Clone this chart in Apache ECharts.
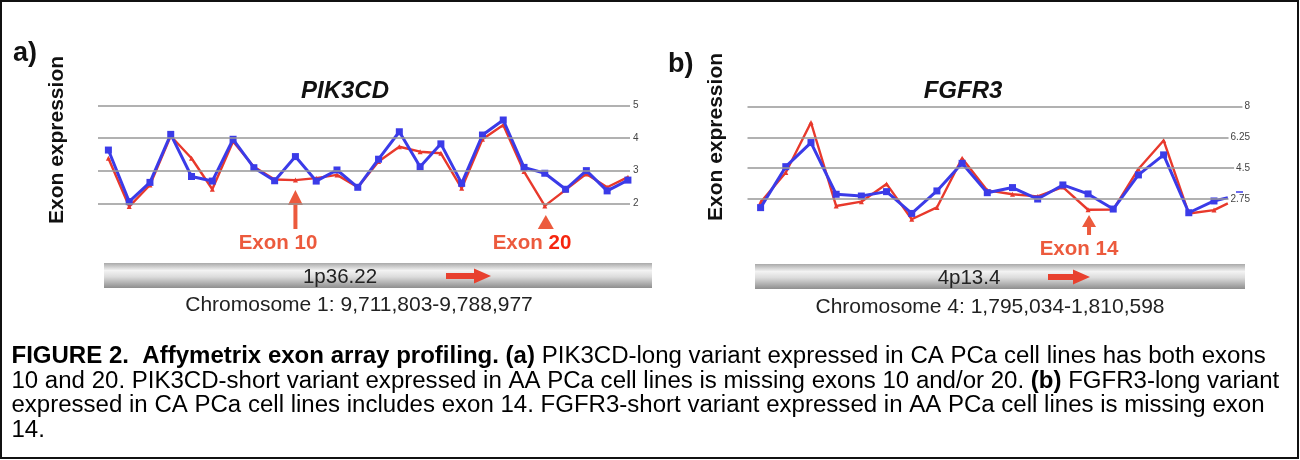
<!DOCTYPE html>
<html><head><meta charset="utf-8">
<script src="https://cdn.jsdelivr.net/npm/echarts@6/dist/echarts.min.js"></script>
<style>html,body{margin:0;padding:0;background:#fff}#c{width:1300px;height:460px}</style>
</head><body><div id="c"></div>
<script>
// ---- data (a) PIK3CD ----
const probesA = [1,2,3,4,5,6,7,8,9,10,11,12,13,14,15,16,17,18,19,20,21,22,23,24,25,26];
const blueA = [3.63,2.05,2.64,4.11,2.82,2.68,3.96,3.09,2.69,3.43,2.68,3.02,2.49,3.35,4.19,3.12,3.82,2.61,4.09,4.55,3.10,2.92,2.43,3.00,2.38,2.71];
const redA  = [3.38,1.90,2.56,4.06,3.38,2.43,3.89,3.12,2.73,2.71,2.77,2.87,2.49,3.28,3.73,3.58,3.53,2.46,3.96,4.40,2.97,1.92,2.41,2.90,2.49,2.80];
const ticksA = [5,4,3,2];
const tickLabelsA = ['5','4','3','2'];
// ---- data (b) FGFR3 ----
const probesB = [0,1,2,3,4,5,6,7,8,9,10,11,12,13,14,15,16,17,18,18.55];
const blueB = [2.26,4.59,5.96,3.02,2.92,3.17,1.93,3.21,4.78,3.11,3.40,2.75,3.55,3.04,2.18,4.12,5.26,1.97,2.64,2.83];
const redB  = [2.56,4.26,7.10,2.35,2.60,3.61,1.60,2.27,5.07,3.24,3.02,2.90,3.43,2.14,2.15,4.46,6.08,1.93,2.12,2.50];
const ticksB = [8,6.25,4.5,2.75];
const tickLabelsB = ['8','6.25','4.5','2.75'];
const exonMarksA = [{idx:9,label:'Exon 10'},{idx:21,label:'Exon 20'}];
const exonMarksB = [{idx:13,label:'Exon 14'}];

const FONT = "'Liberation Sans', Arial, Helvetica, sans-serif";
const BLUE = '#3b3be8', RED = '#e8392c', GRIDC = '#979797', ANN = '#ec5a3d';

const chart = echarts.init(document.getElementById('c'), null, {renderer:'canvas'});

function gridLines(ticks, labels, inside){
  return {
    silent:true, symbol:['none','none'],
    lineStyle:{color:GRIDC, width:1.6, type:'solid'},
    label: inside ? {show:true, position:'insideEnd', distance:0, color:'#444', fontSize:10, fontFamily:FONT,
                     backgroundColor:'#fff', padding:[0,0,0,2], formatter:p=>labels[ticks.indexOf(p.value)]}
                  : {show:true, position:'end', distance:3, color:'#444', fontSize:10, fontFamily:FONT,
                     formatter:p=>labels[ticks.indexOf(p.value)]},
    emphasis:{disabled:true},
    data: ticks.map(v=>({yAxis:v}))
  };
}
function pts(xs, ys, lastNone){
  return xs.map((x,i)=>{
    const it = {value:[x, ys[i]]};
    if (lastNone && i===xs.length-1) it.symbol='none';
    return it;
  });
}

const option = {
  backgroundColor:'#fff',
  animation:false,
  grid:[
    {left:98, top:105.3, width:532, height:107.8},
    {left:747.5, top:106.7, width:502.5, height:114.3}
  ],
  xAxis:[
    {type:'value', gridIndex:0, min:-0.5, max:25.1, show:false},
    {type:'value', gridIndex:1, min:-0.52, max:19.43, show:false}
  ],
  yAxis:[
    {type:'value', gridIndex:0, min:1.7, max:5, show:false},
    {type:'value', gridIndex:1, min:1.5, max:8, show:false}
  ],
  series:[
    {type:'line', xAxisIndex:0, yAxisIndex:0, data:[], z:1, markLine:gridLines(ticksA, tickLabelsA, false)},
    {type:'line', xAxisIndex:0, yAxisIndex:0, z:2, data:pts(probesA.map((p,i)=>i), redA),
     symbol:'triangle', symbolSize:5, lineStyle:{color:RED, width:2.4}, itemStyle:{color:RED}},
    {type:'line', xAxisIndex:0, yAxisIndex:0, z:3, data:pts(probesA.map((p,i)=>i), blueA),
     symbol:'rect', symbolSize:7, lineStyle:{color:BLUE, width:3}, itemStyle:{color:BLUE}},
    {type:'line', xAxisIndex:1, yAxisIndex:1, data:[], z:1, markLine:gridLines(ticksB, tickLabelsB, true)},
    {type:'line', xAxisIndex:1, yAxisIndex:1, z:2, data:pts(probesB, redB, true),
     symbol:'triangle', symbolSize:5, lineStyle:{color:RED, width:2.4}, itemStyle:{color:RED}},
    {type:'line', xAxisIndex:1, yAxisIndex:1, z:3, data:pts(probesB, blueB, true),
     symbol:'rect', symbolSize:7, lineStyle:{color:BLUE, width:3}, itemStyle:{color:BLUE}}
  ]
};
chart.setOption(option);

function txt(text, x, y, o, extra){
  return Object.assign({type:'text', x:x, y:y, silent:true, style:Object.assign({text:text, fontFamily:FONT, fill:'#111', fontSize:20, align:'center', verticalAlign:'middle'}, o||{})}, extra||{});
}
const barGrad = {type:'linear', x:0, y:0, x2:0, y2:1, colorStops:[
  {offset:0, color:'#a9a9a9'},{offset:0.3, color:'#f3f3f3'},{offset:0.55, color:'#dcdcdc'},{offset:1, color:'#8e8e8e'}]};
function chromBar(x1, x2, yTop, h){
  return {type:'rect', silent:true, shape:{x:x1, y:yTop, width:x2-x1, height:h}, style:{fill:barGrad}};
}
function barArrow(x1, x2, yc){
  return {type:'polygon', silent:true, shape:{points:[[x1,yc-3],[x2-17,yc-3],[x2-17,yc-7.5],[x2,yc],[x2-17,yc+7.5],[x2-17,yc+3],[x1,yc+3]]}, style:{fill:'#e8412f'}};
}
function upArrow(ax, tipY, headBase, bottom, halfW){
  const p = [[ax,tipY],[ax+halfW,headBase]];
  if (bottom>headBase){ p.push([ax+2,headBase],[ax+2,bottom],[ax-2,bottom],[ax-2,headBase]); }
  p.push([ax-halfW,headBase]);
  return {type:'polygon', silent:true, shape:{points:p}, style:{fill:ANN}};
}
const ax10 = chart.convertToPixel({gridIndex:0}, [exonMarksA[0].idx, 2])[0];
const ax20 = chart.convertToPixel({gridIndex:0}, [exonMarksA[1].idx, 2])[0];
const ax14 = chart.convertToPixel({gridIndex:1}, [exonMarksB[0].idx, 2])[0];

const CAPF = 23;
const capRich = {b:{fontWeight:'bold', fontFamily:FONT, fontSize:CAPF, fill:'#000'}};
const capStyle = {align:'left', fontSize:CAPF, fill:'#000', rich:capRich};
const capX = {scaleX:1.045, originX:12};

const graphic = [
  {type:'rect', silent:true, shape:{x:1, y:1, width:1297, height:457}, style:{fill:'none', stroke:'#111', lineWidth:2}},
  txt('a)', 13, 54, {align:'left', fontSize:27, fontWeight:'bold'}),
  txt('b)', 668, 65, {align:'left', fontSize:27, fontWeight:'bold'}),
  {type:'text', x:57, y:140, rotation:Math.PI/2, silent:true, style:{text:'Exon expression', fontFamily:FONT, fontWeight:'bold', fontSize:21, fill:'#111', align:'center', verticalAlign:'middle'}},
  {type:'text', x:716, y:137, rotation:Math.PI/2, silent:true, style:{text:'Exon expression', fontFamily:FONT, fontWeight:'bold', fontSize:21, fill:'#111', align:'center', verticalAlign:'middle'}},
  txt('PIK3CD', 345, 91, {fontSize:24, fontWeight:'bold', fontStyle:'italic'}),
  txt('FGFR3', 963, 91, {fontSize:24, fontWeight:'bold', fontStyle:'italic'}),
  upArrow(ax10, 190, 205, 229, 7.5),
  upArrow(ax20+1, 215, 229, 229, 8),
  upArrow(ax14+1, 215, 227, 235, 7),
  txt(exonMarksA[0].label, 278, 243, {fontSize:20.5, fontWeight:'bold', fill:ANN}),
  txt('{e|Exon }{r|20}', 532, 243, {fontSize:20.5, fontWeight:'bold', fill:ANN, rich:{
      e:{fontSize:20.5, fontWeight:'bold', fontFamily:FONT, fill:ANN}, r:{fontSize:20.5, fontWeight:'bold', fontFamily:FONT, fill:'#f6250e'}}}),
  txt(exonMarksB[0].label, 1079, 249, {fontSize:20.5, fontWeight:'bold', fill:ANN}),
  chromBar(104, 652, 263, 25),
  chromBar(755, 1245, 264, 25),
  barArrow(446, 491, 276),
  barArrow(1048, 1090, 277),
  txt('1p36.22', 340, 277, {fontSize:20.5, fill:'#222'}),
  txt('4p13.4', 969, 278, {fontSize:20.5, fill:'#222'}),
  txt('Chromosome 1: 9,711,803-9,788,977', 359, 305, {fontSize:21, fill:'#222'}),
  txt('Chromosome 4: 1,795,034-1,810,598', 990, 307, {fontSize:21, fill:'#222'}),
  {type:'line', silent:true, shape:{x1:1236, y1:192, x2:1243, y2:192}, style:{stroke:BLUE, lineWidth:1.5}},
  txt('{b|FIGURE 2.  Affymetrix exon array profiling. (a)} PIK3CD-long variant expressed in CA PCa cell lines has both exons', 12, 357, capStyle, capX),
  txt('10 and 20. PIK3CD-short variant expressed in AA PCa cell lines is missing exons 10 and/or 20. {b|(b)} FGFR3-long variant', 12, 381.5, capStyle, capX),
  txt('expressed in CA PCa cell lines includes exon 14. FGFR3-short variant expressed in AA PCa cell lines is missing exon', 12, 406, capStyle, capX),
  txt('14.', 12, 430.5, capStyle, capX)
];
chart.setOption({graphic: graphic});
</script>
</body></html>
